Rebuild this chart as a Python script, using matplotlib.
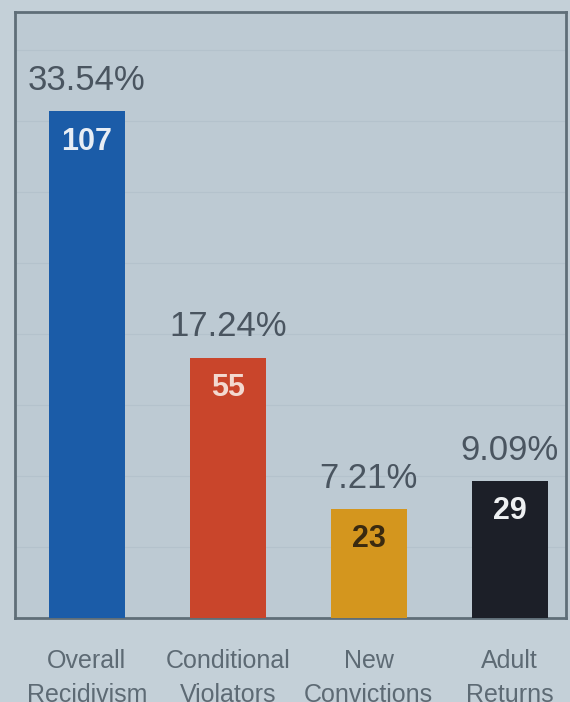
import matplotlib.pyplot as plt
from matplotlib import font_manager

# data
categories = ['Overall\nRecidivism', 'Conditional\nViolators', 'New\nConvictions', 'Adult\nReturns']
counts = [107, 55, 23, 29]
percents = ['33.54%', '17.24%', '7.21%', '9.09%']
bar_colors = ['#1b5ca8', '#c9452b', '#d4961e', '#1c1f28']
count_colors = ['#e8eef5', '#f3d9d0', '#3a2a10', '#eef0f2']

names = {f.name for f in font_manager.fontManager.ttflist}
narrow = 'Liberation Sans Narrow' if 'Liberation Sans Narrow' in names else 'Liberation Sans'
plt.rcParams['font.family'] = [narrow, 'DejaVu Sans']

fig = plt.figure(figsize=(5.7, 7.02), dpi=100, facecolor='#c4d0d8')
ax = fig.add_axes([15 / 570, 1 - 618 / 702, 551 / 570, 606 / 702])
ax.set_facecolor('#bdcad3')

x = list(range(len(counts)))
bars = ax.bar(x, counts, width=0.54, color=bar_colors, zorder=3)

ax.set_xlim(-0.51, 3.40)
ax.set_ylim(0, 128)

# faint horizontal rules
for y in range(15, 128, 15):
    ax.axhline(y, color='#b4c2cc', lw=0.8, zorder=1)

for b, n, p, tc in zip(bars, counts, percents, count_colors):
    cx = b.get_x() + b.get_width() / 2
    ax.text(cx, n + 3, p, ha='center', va='bottom', fontsize=25,
            color='#4a5560')
    ax.text(cx, n - 3.2, str(n), ha='center', va='top', fontsize=22,
            color=tc, fontweight='bold')

ax.set_xticks(x)
ax.set_xticklabels(categories, fontsize=18, color='#5d6a74', linespacing=1.55)
ax.tick_params(axis='x', length=0, pad=22)
ax.set_yticks([])

for s in ax.spines.values():
    s.set_color('#5f6e78')
    s.set_linewidth(2)

fig.savefig('out.png', dpi=100, facecolor=fig.get_facecolor())
